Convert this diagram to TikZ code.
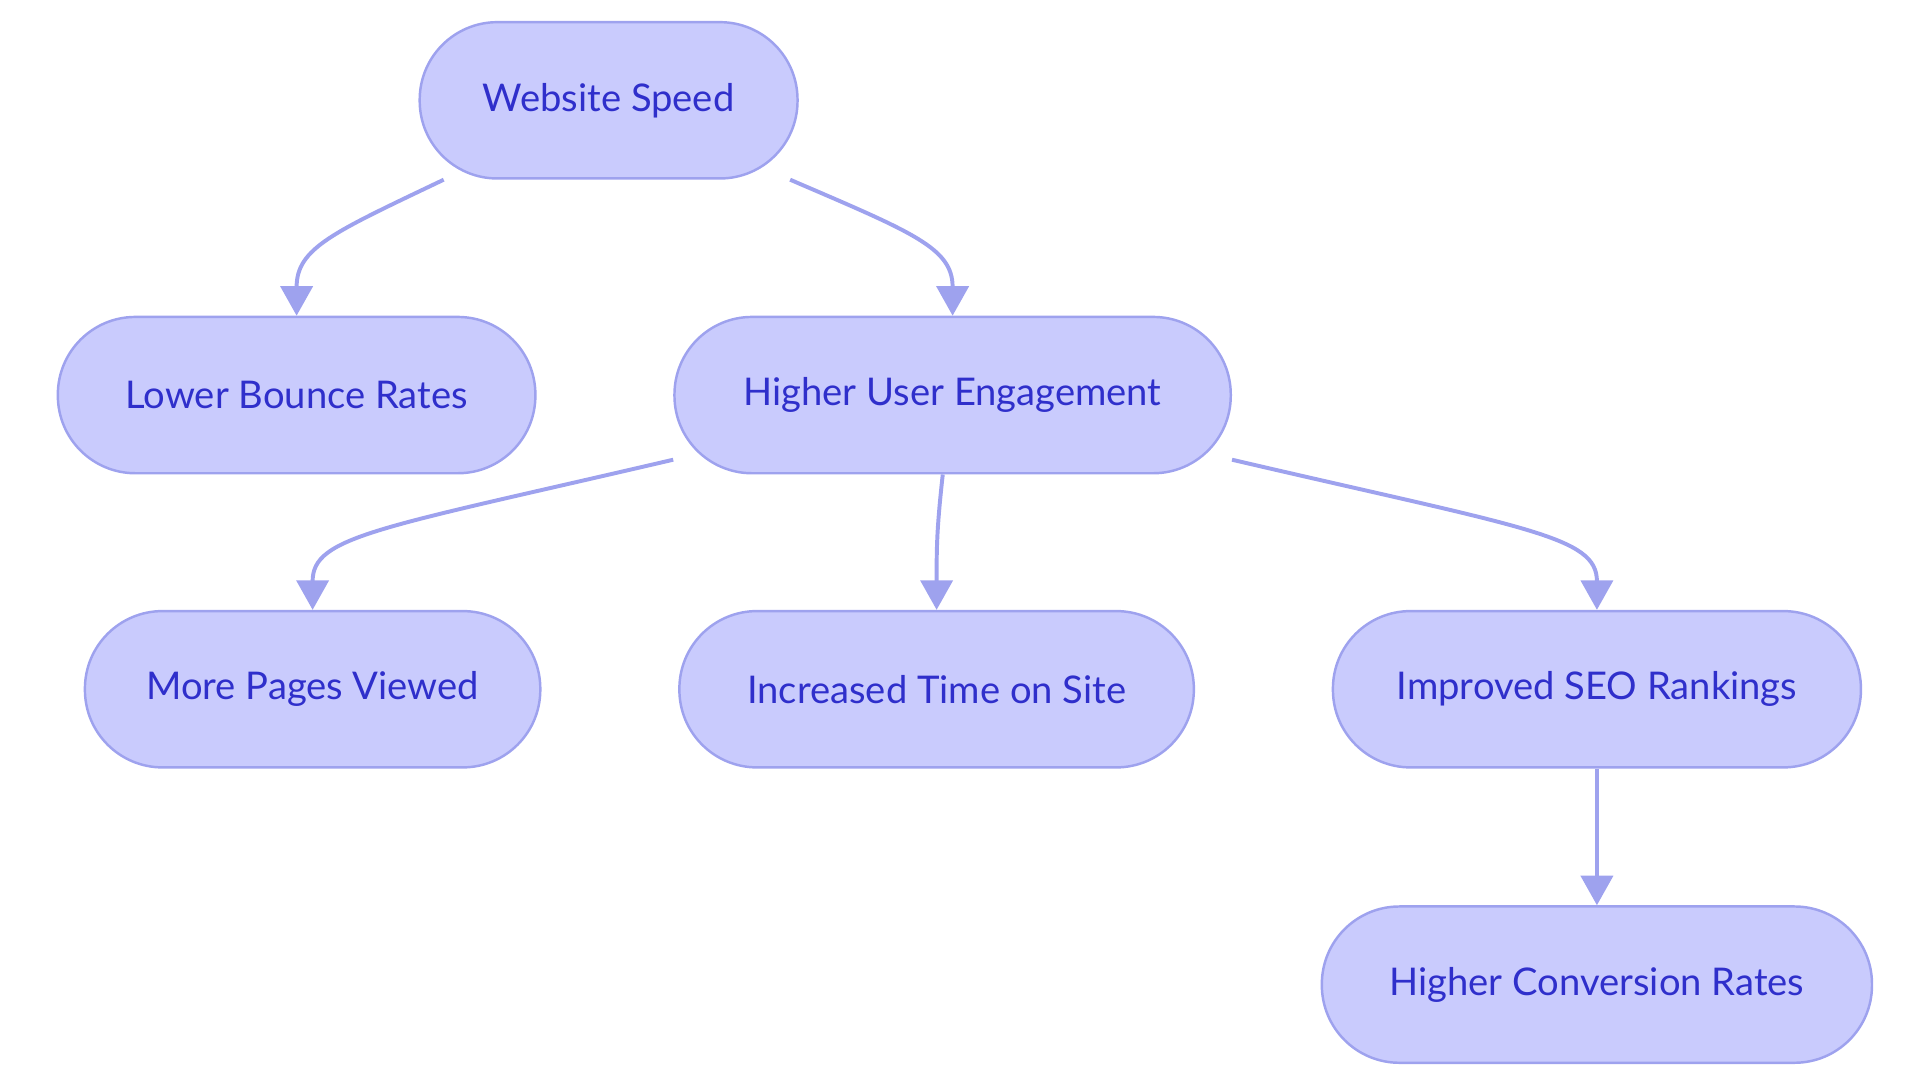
\documentclass[tikz,border=0pt]{standalone}
\usepackage{fontspec}
\setmainfont{Lato}
\usetikzlibrary{arrows.meta,calc}
\definecolor{nfill}{HTML}{C9CBFD}
\definecolor{nline}{HTML}{9EA2EE}
\definecolor{ntext}{HTML}{2F2FCB}
\tikzset{
  box/.style={draw=nline,fill=nfill,line width=1pt,rounded corners=31.5pt,minimum height=63.5pt,text=ntext,font=\fontsize{15.5}{18}\selectfont,inner sep=0pt},
  conn/.style={draw=nline,line width=1.6pt,-{Triangle[length=12pt,width=13pt]}}
}
\begin{document}
\begin{tikzpicture}[x=0.5pt,y=-0.5pt]
\useasboundingbox (0,0) rectangle (1560,880);
\node[box,minimum width=153.5pt] (ws) at (494.5,81.5) {Website Speed};
\node[box,minimum width=194pt] (lb) at (241,321) {Lower Bounce Rates};
\node[box,minimum width=226pt] (hu) at (774,321) {Higher User Engagement};
\node[box,minimum width=185pt] (mp) at (254,560) {More Pages Viewed};
\node[box,minimum width=209pt] (it) at (761,560) {Increased Time on Site};
\node[box,minimum width=214.5pt] (is) at (1297.5,560) {Improved SEO Rankings};
\node[box,minimum width=223.5pt] (hc) at (1297.5,800) {Higher Conversion Rates};
\draw[conn] ($(ws.south)+(-134,0)$) .. controls +(-90,43) and +(0,-55) .. (lb.north);
\draw[conn] ($(ws.south)+(147.5,0)$) .. controls +(100,43) and +(0,-55) .. (hu.north);
\draw[conn] ($(hu.south west)+(0,-12)$) .. controls +(-240,56) and +(0,-60) .. (mp.north);
\draw[conn] ($(hu.south)+(-8,0)$) .. controls +(-5,45) and +(0,-50) .. (it.north);
\draw[conn] ($(hu.south east)+(0,-12)$) .. controls +(240,56) and +(0,-60) .. (is.north);
\draw[conn] (is.south) -- (hc.north);
\end{tikzpicture}
\end{document}
